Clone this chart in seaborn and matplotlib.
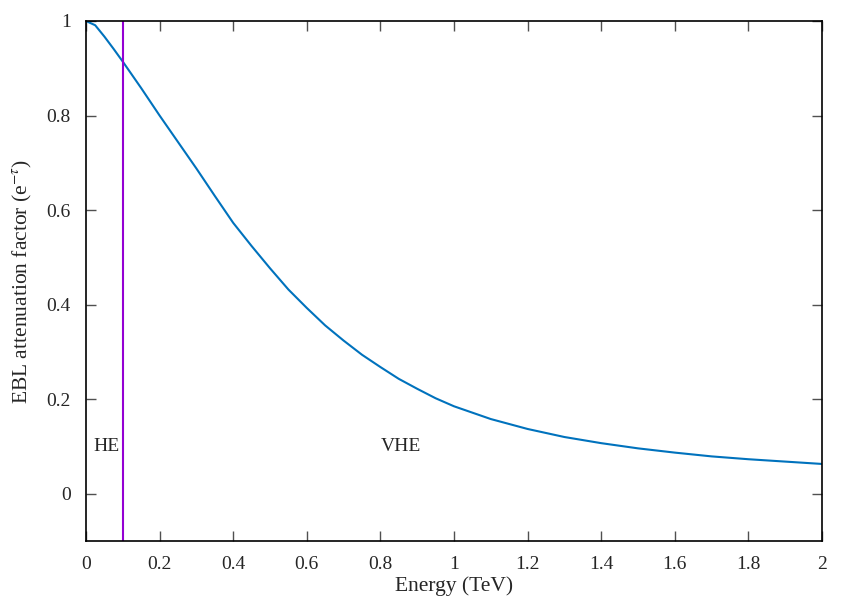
import numpy as np
import pandas as pd
import seaborn as sns
import matplotlib
matplotlib.use("Agg")
import matplotlib.pyplot as plt

# valores
energia = [0.0, 0.025, 0.05, 0.075, 0.1, 0.15, 0.2, 0.25, 0.3, 0.35, 0.4, 0.45,
           0.5, 0.55, 0.6, 0.65, 0.7, 0.75, 0.8, 0.85, 0.9, 0.95,
           1.0, 1.1, 1.2, 1.3, 1.4, 1.5, 1.6, 1.7, 1.8, 1.9, 2.0]
atenuacion = [1.0, 0.991, 0.967, 0.941, 0.914, 0.858, 0.80, 0.744, 0.688, 0.630,
              0.573, 0.524, 0.477, 0.432, 0.393, 0.356, 0.324, 0.294,
              0.268, 0.243, 0.222, 0.202, 0.185, 0.158, 0.137, 0.120, 0.107,
              0.096, 0.087, 0.079, 0.073, 0.068, 0.063]
corte_he = 0.1
etiquetas = ["HE", "VHE"]
pos_etiquetas = [0.02, 0.8]

df = pd.DataFrame({"Energy": energia, "Att": atenuacion})

sns.set_style("ticks")
plt.rcParams["font.family"] = ["Liberation Serif", "DejaVu Serif"]
plt.rcParams["mathtext.fontset"] = "stix"

fig = plt.figure(figsize=(8.54, 5.98), dpi=100)
ax = fig.add_axes([0.1007, 0.0953, 0.8618, 0.8696])

sns.lineplot(data=df, x="Energy", y="Att", ax=ax, color="#0072bd", linewidth=1.5)
ax.axvline(corte_he, color="#9400d3", linewidth=1.5)

for txt, xp in zip(etiquetas, pos_etiquetas):
    ax.text(xp, 0.1, txt, fontsize=14, ha="left", va="center")

ax.set_xlim(0, 2)
ax.set_ylim(-0.1, 1)
ax.set_xticks(np.arange(0, 2.01, 0.2))
ax.set_xticklabels(["0", "0.2", "0.4", "0.6", "0.8", "1", "1.2", "1.4", "1.6", "1.8", "2"])
ax.set_yticks([0, 0.2, 0.4, 0.6, 0.8, 1])
ax.set_yticklabels(["0", "0.2", "0.4", "0.6", "0.8", "1"])
ax.tick_params(direction="in", length=7, width=1, top=True, right=True,
               labelsize=14, color="#505050")
ax.tick_params(axis="x", pad=11)
ax.tick_params(axis="y", pad=11)
for s in ax.spines.values():
    s.set_linewidth(1.2)
    s.set_color("black")

ax.set_xlabel("Energy (TeV)", fontsize=15.5, labelpad=2)
ax.set_ylabel(r"EBL attenuation factor (e$^{-\tau}$)", fontsize=15.5, labelpad=9)

fig.savefig("out.png", dpi=100)
